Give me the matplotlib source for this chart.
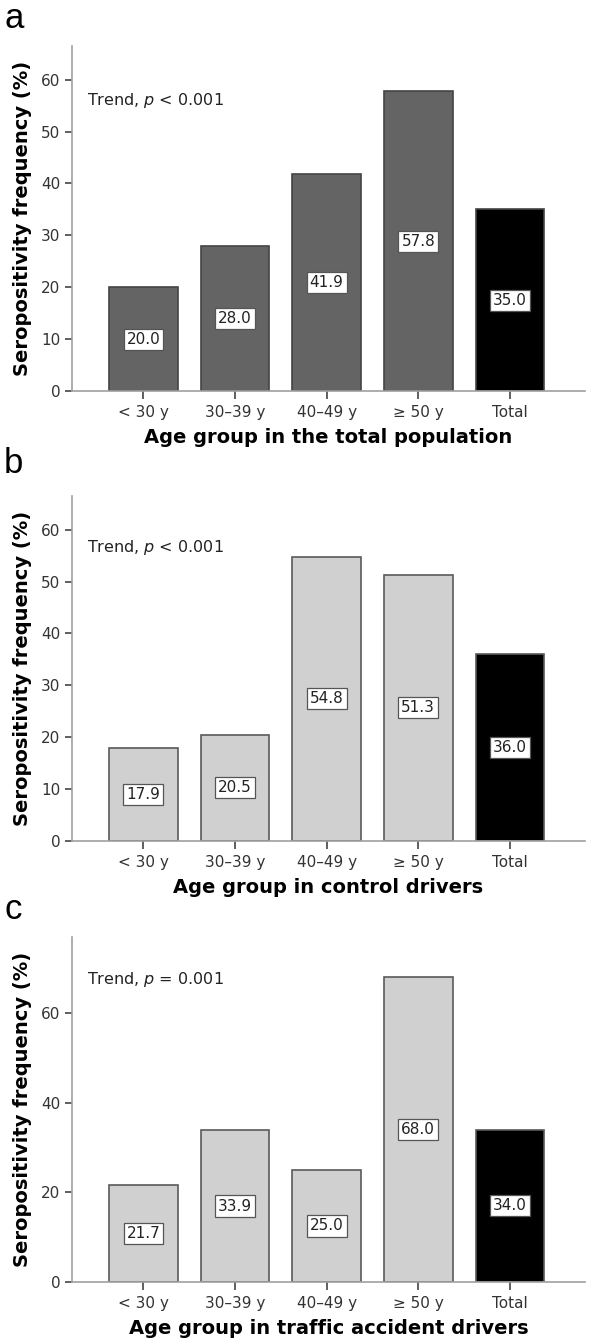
import matplotlib
matplotlib.use("Agg")
import matplotlib.pyplot as plt

plt.rcParams['font.family'] = ['DejaVu Sans']
plt.rcParams['mathtext.fontset'] = 'dejavusans'

groups = ['< 30 y', '30\u201339 y', '40\u201349 y', '\u2265 50 y', 'Total']
total_pop = [20.0, 28.0, 41.9, 57.8, 35.0]
control = [17.9, 20.5, 54.8, 51.3, 36.0]
accident = [21.7, 33.9, 25.0, 68.0, 34.0]
xlabels = ['Age group in the total population',
           'Age group in control drivers',
           'Age group in traffic accident drivers']
trends = ['Trend, $p$ < 0.001', 'Trend, $p$ < 0.001', 'Trend, $p$ = 0.001']
letters = ['a', 'b', 'c']


def draw_panel(ax, values, bar_color, edge_color, ymax, yticks, trend_y, trend, xlabel):
    x = range(len(groups))
    colors = [bar_color] * (len(values) - 1) + ['black']
    ax.bar(x, values, width=0.75, color=colors, edgecolor=edge_color, linewidth=1.2, zorder=2)
    for i, v in enumerate(values):
        ax.text(i, v / 2, '%.1f' % v, ha='center', va='center', fontsize=11, color='#222222',
                bbox=dict(boxstyle='square,pad=0.2', fc='white', ec='#555555', lw=0.9), zorder=3)
    ax.set_xlim(-0.78, 4.82)
    ax.set_ylim(0, ymax)
    ax.set_yticks(yticks)
    ax.set_xticks(list(x))
    ax.set_xticklabels(groups)
    for s in ['top', 'right']:
        ax.spines[s].set_visible(False)
    for s in ['left', 'bottom']:
        ax.spines[s].set_color('#a0a0a0')
        ax.spines[s].set_linewidth(1.2)
    ax.tick_params(axis='both', colors='#444444', labelcolor='#333333', labelsize=11,
                   length=5, width=1.2)
    ax.tick_params(axis='x', length=6, pad=4)
    ax.text(0.03, trend_y, trend, transform=ax.get_yaxis_transform(), fontsize=11.5,
            color='#222222', va='center')
    ax.set_xlabel(xlabel, fontsize=14, fontweight='bold', labelpad=6)
    ax.set_ylabel('Seropositivity frequency (%)', fontsize=14, fontweight='bold', labelpad=6)


fig = plt.figure(figsize=(6, 13.43), dpi=100)
left = 72 / 600
width = (585 - 72) / 600
H = 1343
ax_a = fig.add_axes([left, 1 - 391 / H, width, (391 - 46) / H])
ax_b = fig.add_axes([left, 1 - 841 / H, width, (841 - 496) / H])
ax_c = fig.add_axes([left, 1 - 1282 / H, width, (1282 - 937) / H])

draw_panel(ax_a, total_pop, '#646464', '#444444', 66.5, [0, 10, 20, 30, 40, 50, 60], 56,
           trends[0], xlabels[0])
draw_panel(ax_b, control, '#d0d0d0', '#5a5a5a', 66.5, [0, 10, 20, 30, 40, 50, 60], 56.5,
           trends[1], xlabels[1])
draw_panel(ax_c, accident, '#d0d0d0', '#5a5a5a', 77, [0, 20, 40, 60], 67.5,
           trends[2], xlabels[2])

for ax, letter, ytop in zip([ax_a, ax_b, ax_c], letters, [2, 447, 893]):
    fig.text(4 / 600, 1 - ytop / H, letter, fontsize=25, va='top', ha='left',
             family=['Liberation Sans', 'DejaVu Sans'])

fig.savefig('out.png', dpi=100)
